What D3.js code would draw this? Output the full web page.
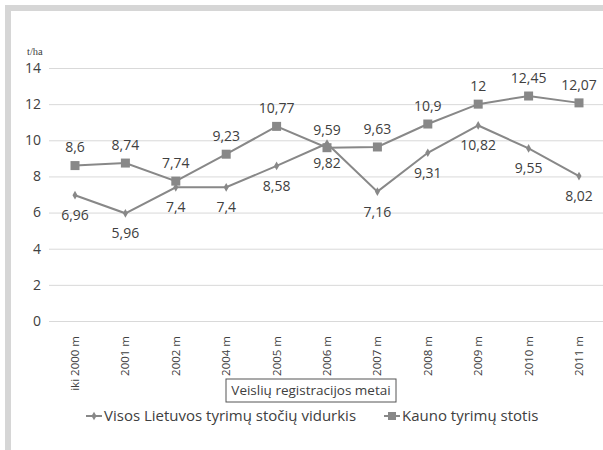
<!DOCTYPE html>
<html>
<head>
<meta charset="utf-8">
<script src="https://cdn.jsdelivr.net/npm/d3@7"></script>
<style>
  body { margin: 0; background: #fff; }
  svg { display: block; }
  .grid line { stroke: #d9d9d9; stroke-width: 1; }
  .grid path { display: none; }
  .lbl { font-family: "Open Sans", "Noto Sans", sans-serif; fill: #404040; }
</style>
</head>
<body>
<div class="chart"></div>
<script>
// chart data
var years = ["iki 2000 m", "2001 m", "2002 m", "2004 m", "2005 m", "2006 m",
             "2007 m", "2008 m", "2009 m", "2010 m", "2011 m"];
var visosValues = [6.96, 5.96, 7.4, 7.4, 8.58, 9.82, 7.16, 9.31, 10.82, 9.55, 8.02];
var kaunoValues = [8.6, 8.74, 7.74, 9.23, 10.77, 9.59, 9.63, 10.9, 12, 12.45, 12.07];
var yTicks = [0, 2, 4, 6, 8, 10, 12, 14];
var seriesNames = ["Visos Lietuvos tyrimų stočių vidurkis", "Kauno tyrimų stotis"];

var svgWidth = 603;
var svgHeight = 450;

var svg = d3.select(".chart")
  .append("svg")
  .attr("width", svgWidth)
  .attr("height", svgHeight);

// gray frame on top and left
svg.append("rect").attr("x", 5).attr("y", 5).attr("width", svgWidth - 5).attr("height", 6).attr("fill", "#d6d6d6");
svg.append("rect").attr("x", 5).attr("y", 5).attr("width", 6).attr("height", svgHeight - 5).attr("fill", "#d6d6d6");

var xScale = d3.scalePoint()
  .domain(years)
  .range([75, 579]);

var yScale = d3.scaleLinear()
  .domain([0, 14])
  .range([321, 68]);

// horizontal gridlines
svg.append("g")
  .attr("class", "grid")
  .attr("transform", "translate(49,0)")
  .call(d3.axisLeft(yScale).tickValues(yTicks).tickSize(-560).tickFormat(""));

// y tick labels
svg.selectAll(".ytick")
  .data(yTicks)
  .enter()
  .append("text")
  .attr("class", "lbl")
  .attr("x", 41)
  .attr("y", d => yScale(d))
  .attr("dy", "0.35em")
  .attr("text-anchor", "end")
  .style("font-size", "14px")
  .text(d => d);

// unit
svg.append("text")
  .attr("x", 27)
  .attr("y", 55)
  .style("font-family", "'Liberation Serif', serif")
  .style("font-size", "10.5px")
  .style("fill", "#404040")
  .text("t/ha");

// x tick labels, rotated
svg.selectAll(".xtick")
  .data(years)
  .enter()
  .append("text")
  .attr("class", "lbl")
  .attr("transform", d => `translate(${xScale(d) + 4}, 336) rotate(-90)`)
  .attr("text-anchor", "end")
  .style("font-size", "11.5px")
  .text(d => d);

// axis title box
var titleG = svg.append("g");
titleG.append("rect")
  .attr("x", 226)
  .attr("y", 379)
  .attr("width", 170)
  .attr("height", 23)
  .attr("fill", "#fff")
  .attr("stroke", "#555")
  .attr("stroke-width", 1);
titleG.append("text")
  .attr("class", "lbl")
  .attr("x", 311)
  .attr("y", 395)
  .attr("text-anchor", "middle")
  .style("font-size", "13.5px")
  .text("Veislių registracijos metai");

var lineColor = "#888888";

var line = d3.line()
  .x((d, i) => xScale(years[i]))
  .y(d => yScale(d));

svg.append("path")
  .datum(visosValues)
  .attr("fill", "none")
  .attr("stroke", lineColor)
  .attr("stroke-width", 2)
  .attr("d", line);

svg.append("path")
  .datum(kaunoValues)
  .attr("fill", "none")
  .attr("stroke", lineColor)
  .attr("stroke-width", 2)
  .attr("d", line);

// diamond markers
svg.selectAll(".dmark")
  .data(visosValues)
  .enter()
  .append("path")
  .attr("d", d3.symbol().type(d3.symbolDiamond).size(22))
  .attr("transform", (d, i) => `translate(${xScale(years[i])},${yScale(d)})`)
  .attr("fill", lineColor);

// square markers
svg.selectAll(".smark")
  .data(kaunoValues)
  .enter()
  .append("rect")
  .attr("x", (d, i) => xScale(years[i]) - 4.5)
  .attr("y", d => yScale(d) - 4.5)
  .attr("width", 9)
  .attr("height", 9)
  .attr("fill", lineColor);

var fmt = d => String(d).replace(".", ",");

// data labels
svg.selectAll(".vlab")
  .data(visosValues)
  .enter()
  .append("text")
  .attr("class", "lbl")
  .attr("x", (d, i) => xScale(years[i]))
  .attr("y", d => yScale(d) + 20)
  .attr("dy", "0.35em")
  .attr("text-anchor", "middle")
  .style("font-size", "14px")
  .text(fmt);

svg.selectAll(".klab")
  .data(kaunoValues)
  .enter()
  .append("text")
  .attr("class", "lbl")
  .attr("x", (d, i) => xScale(years[i]))
  .attr("y", d => yScale(d) - 18)
  .attr("dy", "0.35em")
  .attr("text-anchor", "middle")
  .style("font-size", "14px")
  .text(fmt);

// legend
var legendX = [86, 384];
seriesNames.forEach(function (name, i) {
  var g = svg.append("g").attr("transform", `translate(${legendX[i]}, 416)`);
  g.append("line")
    .attr("x1", 0).attr("x2", 16)
    .attr("stroke", lineColor).attr("stroke-width", 2);
  if (i === 0) {
    g.append("path")
      .attr("d", d3.symbol().type(d3.symbolDiamond).size(22))
      .attr("transform", "translate(8,0)")
      .attr("fill", lineColor);
  } else {
    g.append("rect")
      .attr("x", 4).attr("y", -4).attr("width", 8).attr("height", 8)
      .attr("fill", lineColor);
  }
  g.append("text")
    .attr("class", "lbl")
    .attr("x", 18)
    .attr("dy", "0.35em")
    .style("font-size", "15px")
    .text(name);
});
</script>
</body>
</html>
